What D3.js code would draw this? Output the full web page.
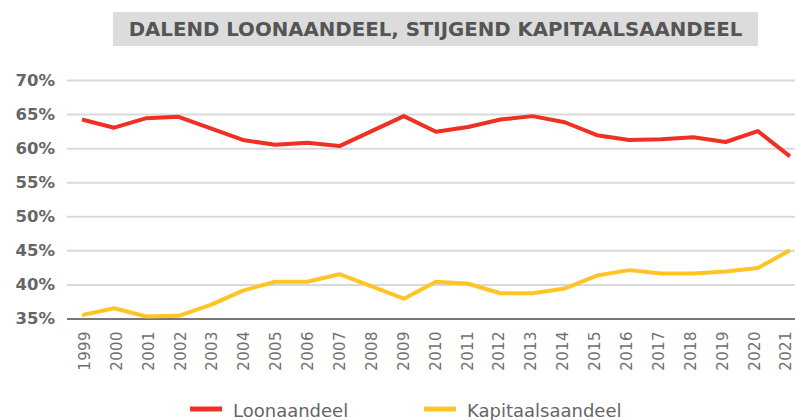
<!DOCTYPE html>
<html><head><meta charset="utf-8">
<script src="https://cdn.jsdelivr.net/npm/d3@7/dist/d3.min.js"></script>
<style>html,body{margin:0;padding:0;background:#fff;overflow:hidden}</style>
</head><body>
<svg id="c" width="795" height="420"></svg>
<script>
const years = ["1999","2000","2001","2002","2003","2004","2005","2006","2007","2008","2009","2010","2011","2012","2013","2014","2015","2016","2017","2018","2019","2020","2021"];
const loonaandeel = [64.2,63.0,64.4,64.6,62.9,61.2,60.5,60.8,60.3,62.5,64.7,62.4,63.1,64.2,64.7,63.8,61.9,61.2,61.3,61.6,60.9,62.5,58.8];
const kapitaalsaandeel = [35.5,36.5,35.3,35.4,37.0,39.1,40.4,40.4,41.5,39.7,37.9,40.4,40.1,38.7,38.7,39.4,41.3,42.1,41.6,41.6,41.9,42.4,45.0];
const yTicks = [35,40,45,50,55,60,65,70];
const seriesNames = ["Loonaandeel","Kapitaalsaandeel"];
const title = "DALEND LOONAANDEEL, STIJGEND KAPITAALSAANDEEL";

const colors = ["#ee3124","#ffc425"];
const svg = d3.select("#c");
const x = d3.scalePoint().domain(years).range([82, 790]);
const xLab = d3.scalePoint().domain(years).range([84, 785.5]);
const y = d3.scaleLinear().domain([35,70]).range([318.5, 80]);

// title box
svg.append("rect").attr("x",113).attr("y",12).attr("width",645).attr("height",34).attr("fill","#dcdcdd");
const t = svg.append("text").attr("x",435.5).attr("y",29).attr("text-anchor","middle")
  .attr("dominant-baseline","central").attr("font-family","DejaVu Sans").attr("font-weight","bold")
  .attr("font-size",17).attr("fill","#555").text(title);
const tw = t.node().getComputedTextLength();
t.attr("font-size", 17*614/tw);

// grid
const yAxis = d3.axisLeft(y).tickValues(yTicks).tickSize(-(795-67)).tickFormat(d=>d+"%");
const ga = svg.append("g").attr("transform","translate(67,0)").call(yAxis);
ga.select(".domain").remove();
ga.selectAll(".tick line").attr("stroke",d=>d===35?"#777":"#d9d9d9").attr("stroke-width",2);
ga.selectAll(".tick text").attr("x",-12).attr("font-family","DejaVu Sans").attr("font-weight","bold")
  .attr("font-size",16.5).attr("fill","#666");

// x axis labels
const xa = d3.axisBottom(xLab).tickSize(0);
const gx = svg.append("g").attr("transform","translate(0,331)").call(xa);
gx.select(".domain").remove();
gx.selectAll(".tick text").attr("transform","rotate(-90)").attr("text-anchor","end")
  .attr("x",0).attr("y",0).attr("dy","0.36em").attr("font-family","DejaVu Sans")
  .attr("font-size",15).attr("letter-spacing","0.4px").attr("fill","#707070");

// lines
const line = d3.line().x((d,i)=>x(years[i])).y(d=>y(d));
[loonaandeel,kapitaalsaandeel].forEach((s,i)=>{
  svg.append("path").datum(s).attr("d",line).attr("fill","none").attr("stroke",colors[i])
    .attr("stroke-width",4).attr("stroke-linejoin","round");
});

// legend
const lg = [{x:190,tx:233},{x:424,tx:467}];
seriesNames.forEach((n,i)=>{
  svg.append("line").attr("x1",lg[i].x).attr("x2",lg[i].x+32).attr("y1",409).attr("y2",409)
    .attr("stroke",colors[i]).attr("stroke-width",5);
  svg.append("text").attr("x",lg[i].tx).attr("y",417).attr("font-family","DejaVu Sans")
    .attr("font-size",18).attr("fill","#666").text(n);
});
</script>
</body></html>
